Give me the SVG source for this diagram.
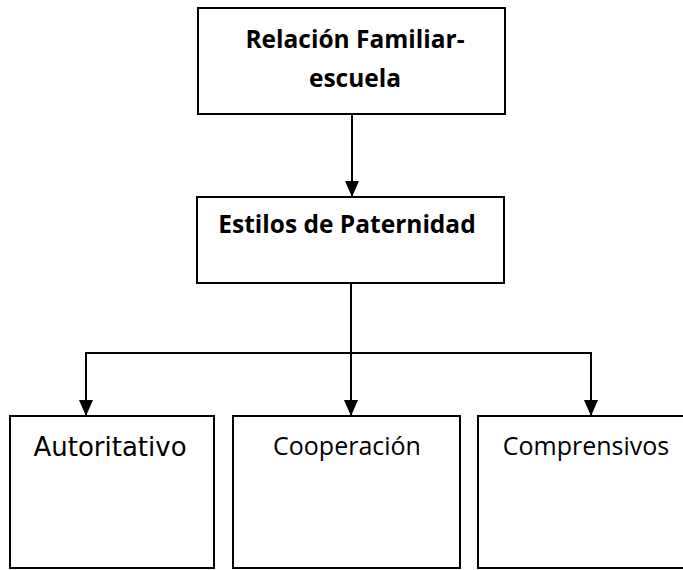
<svg xmlns="http://www.w3.org/2000/svg" width="683" height="570" viewBox="0 0 683 570">
<style>
.box{fill:#fff;stroke:#000;stroke-width:2}
.b{font-family:"Open Sans","Liberation Sans",sans-serif;font-weight:bold;font-size:24.5px;fill:#000;text-anchor:middle}
.r{font-family:"Open Sans","Liberation Sans",sans-serif;font-size:25px;fill:#000;text-anchor:middle}
.c{fill:none;stroke:#000;stroke-width:2}
</style>
<defs>
<marker id="ah" markerWidth="16" markerHeight="14" refX="16" refY="7" orient="auto" markerUnits="userSpaceOnUse">
<path d="M0,0 L16,7 L0,14 Z" fill="#000"/>
</marker>
</defs>
<rect width="683" height="570" fill="#fff"/>
<g id="n1">
<rect class="box" x="198" y="8" width="307" height="106"/>
<text class="b" x="355" y="48">Relación Familiar-</text>
<text class="b" x="355" y="87">escuela</text>
</g>
<g id="n2">
<rect class="box" x="197" y="197" width="307" height="86"/>
<text class="b" x="347" y="233">Estilos de Paternidad</text>
</g>
<g id="n3">
<rect class="box" x="10" y="416" width="204" height="152"/>
<text class="r" x="110" y="456" style="font-family:'DejaVu Sans',sans-serif;font-size:26px">Autoritativo</text>
</g>
<g id="n4">
<rect class="box" x="233" y="416" width="227" height="152"/>
<text class="r" x="347" y="455">Cooperación</text>
</g>
<g id="n5">
<rect class="box" x="478" y="416" width="210" height="152"/>
<text class="r" x="586" y="455">Comprensivos</text>
</g>
<g id="connectors">
<path class="c" d="M352,114 V197" marker-end="url(#ah)"/>
<path class="c" d="M351,283 V416" marker-end="url(#ah)"/>
<path class="c" d="M86,416 V353 H591 V416" marker-end="url(#ah)"/>
<path d="M86,416 l-7,-16 h14 z" fill="#000"/>
</g>
</svg>
